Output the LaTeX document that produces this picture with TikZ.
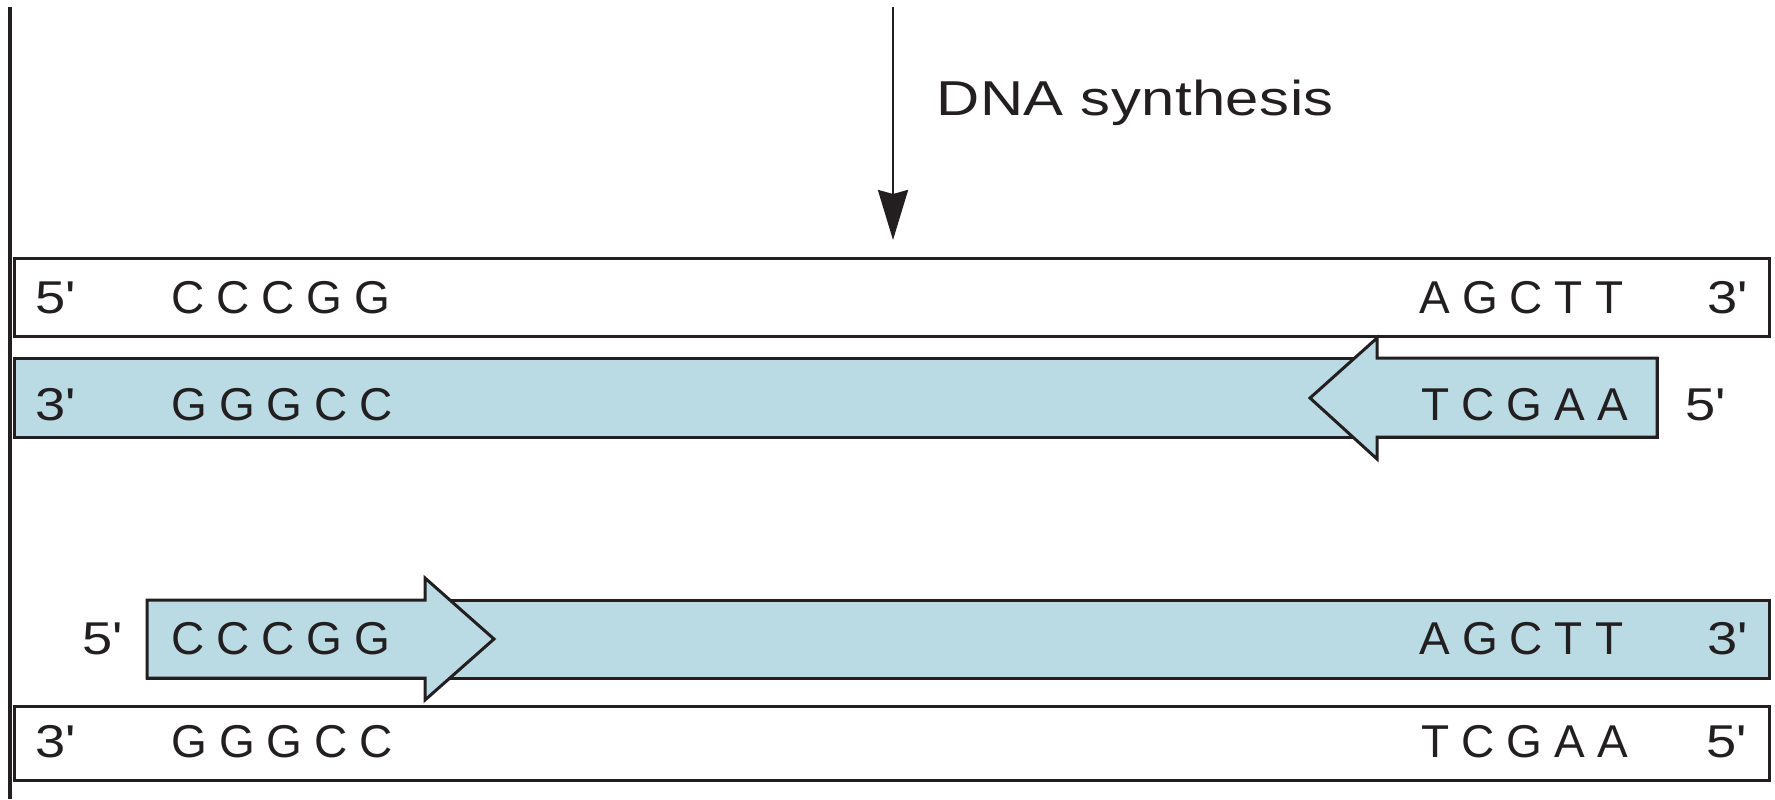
\documentclass[tikz,border=0pt]{standalone}
\usepackage{fontspec}
\setmainfont{Liberation Sans}
\newfontfamily\basefont[LetterSpace=26]{Liberation Sans}
\newfontfamily\endfont[FakeStretch=1.18]{Liberation Sans}
\newfontfamily\labelfont[FakeStretch=1.22,LetterSpace=1]{Liberation Sans}
\usetikzlibrary{arrows.meta}
\definecolor{strandblue}{HTML}{BADBE4}
\definecolor{inkc}{HTML}{231F20}
\begin{document}
\begin{tikzpicture}[x=0.5pt,y=-0.5pt,
  basetxt/.style={inner sep=0pt, anchor=base west, text=inkc, font=\basefont\fontsize{23}{27}\selectfont},
  endtxt/.style={inner sep=0pt, anchor=base west, text=inkc, font=\endfont\fontsize{23}{27}\selectfont},
  labeltxt/.style={inner sep=0pt, anchor=base west, text=inkc, font=\labelfont\fontsize{24.5}{29}\selectfont},
  oldstrand/.style={draw=inkc, line width=1.5pt, fill=white},
  newstrand/.style={draw=inkc, line width=1.5pt, fill=strandblue, line join=miter},
  flow/.style={draw=inkc, line width=1.25pt, -{Stealth[length=25pt, width=15pt, inset=2pt]}}]
\useasboundingbox (0,0) rectangle (1775,799);
% left margin rule
\draw[inkc, line width=2pt] (10,7) -- (10,799);
% synthesis arrow
\coordinate (arrtop) at (893,7);
\coordinate (arrend) at (893,240);
\draw[flow] (arrtop) -- (arrend);
\node[labeltxt] (dna) at (936,115) {DNA synthesis};
% top duplex
\draw[oldstrand] (14,258) rectangle (1769,336);
\draw[newstrand] (14,358) rectangle (1657,437);
\draw[newstrand] (1310,398) -- (1377,338) -- (1377,358) -- (1657,358) -- (1657,437) -- (1377,437) -- (1377,459) -- cycle;
% bottom duplex
\draw[newstrand] (147,600) rectangle (1769,678);
\draw[newstrand] (147,600) -- (425,600) -- (425,578) -- (494,639) -- (425,700) -- (425,678) -- (147,678) -- cycle;
\draw[oldstrand] (14,706) rectangle (1769,780);
% row 1
\node[endtxt] (r1a) at (35,313) {5'};
\node[basetxt] (r1b) at (171,313) {CCCGG};
\node[basetxt] (r1c) at (1419,313) {AGCTT};
\node[endtxt] (r1d) at (1707,313) {3'};
% row 2
\node[endtxt] (r2a) at (35,420) {3'};
\node[basetxt] (r2b) at (171,420) {GGGCC};
\node[basetxt] (r2c) at (1421,420) {TCGAA};
\node[endtxt] (r2d) at (1685,420) {5'};
% row 3
\node[endtxt] (r3a) at (82,654) {5'};
\node[basetxt] (r3b) at (171,654) {CCCGG};
\node[basetxt] (r3c) at (1419,654) {AGCTT};
\node[endtxt] (r3d) at (1707,654) {3'};
% row 4
\node[endtxt] (r4a) at (35,757) {3'};
\node[basetxt] (r4b) at (171,757) {GGGCC};
\node[basetxt] (r4c) at (1421,757) {TCGAA};
\node[endtxt] (r4d) at (1706,757) {5'};
\end{tikzpicture}
\end{document}
